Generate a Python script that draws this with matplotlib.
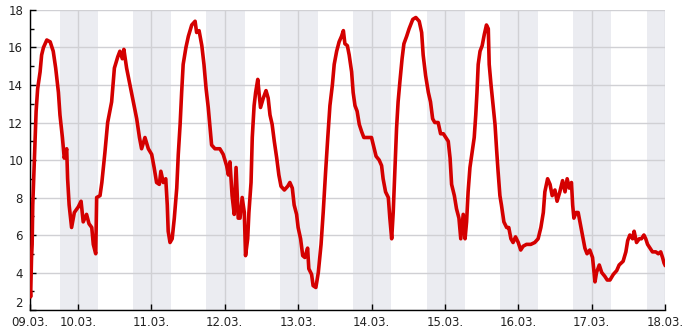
import datetime as dt
import matplotlib
matplotlib.use("Agg")
import matplotlib.pyplot as plt

# Stunden seit 09.03. 00:00 und gemessene Temperatur
hours = [8.3, 8.5, 8.8, 9.0, 9.2, 9.5, 9.8, 10.0, 10.3, 10.8, 11.6, 12.1, 12.7, 13.8, 14.9,
         15.9, 16.7, 17.6, 18.1, 18.9, 19.5, 20.3, 20.6, 21.1, 21.9, 22.8, 24.1, 25.0, 25.7,
         26.8, 27.6, 28.5, 29.0, 29.8, 30.1, 31.2, 31.8, 32.8, 33.7, 35.0, 35.9, 37.0, 37.7,
         38.5, 39.0, 39.9, 41.0, 42.1, 43.2, 44.1, 44.8, 45.9, 47.0, 48.1, 48.9, 49.7, 50.6,
         51.1, 51.9, 52.7, 53.2, 53.5, 54.1, 54.8, 55.5, 56.3, 56.8, 57.4, 57.9, 58.4, 59.3,
         60.1, 61.2, 62.3, 62.8, 63.6, 64.5, 65.2, 65.9, 66.6, 67.2, 67.7, 68.8, 70.4, 71.5,
         72.6, 73.2, 73.7, 74.4, 75.1, 75.7, 76.4, 77.0, 77.7, 78.4, 78.8, 79.5, 79.9, 80.6,
         81.0, 81.6, 82.1, 82.8, 83.2, 83.7, 84.6, 85.5, 86.2, 86.8, 87.5, 88.2, 89.0, 89.7,
         90.4, 91.5, 92.6, 93.3, 94.1, 94.7, 95.5, 96.0, 96.8, 97.5, 98.2, 99.1, 99.5, 100.4,
         100.9, 101.8, 102.6, 103.5, 104.2, 105.0, 105.7, 106.4, 107.2, 107.8, 108.6, 109.4,
         110.2, 110.8, 111.3, 112.1, 112.7, 113.5, 114.0, 114.6, 115.3, 116.0, 116.8, 117.5,
         118.9, 120.0, 120.6, 121.5, 122.5, 123.3, 123.8, 124.6, 125.5, 126.0, 126.6, 127.1,
         127.7, 128.2, 128.7, 129.3, 130.0, 130.6, 131.5, 132.3, 133.5, 134.5, 135.6, 136.4,
         136.9, 137.7, 138.6, 139.3, 140.0, 140.7, 141.8, 142.6, 143.5, 144.3, 145.1, 145.7,
         146.2, 147.1, 147.8, 148.6, 149.2, 150.0, 150.6, 151.1, 151.6, 152.2, 152.9, 153.6,
         154.1, 154.5, 154.9, 155.5, 156.2, 156.9, 157.6, 158.2, 158.5, 159.1, 159.8, 160.4,
         160.9, 161.4, 162.0, 162.5, 163.3, 164.2, 164.9, 165.6, 166.3, 167.1, 168.0, 168.8,
         169.6, 170.7, 172.1, 173.4, 174.5, 175.4, 176.2, 176.7, 177.6, 178.4, 179.1, 180.0,
         180.7, 181.6, 182.5, 183.3, 184.0, 184.7, 185.4, 185.8, 186.2, 186.9, 187.6, 188.4,
         189.0, 189.8, 190.5, 191.4, 192.3, 193.1, 193.6, 194.5, 195.3, 196.3, 197.1, 198.0,
         199.1, 200.2, 201.0, 202.3, 203.2, 203.8, 204.5, 205.4, 205.9, 206.7, 207.6, 208.3,
         209.1, 209.7, 210.3, 211.1, 211.9, 213.0, 213.8, 214.6, 215.2, 215.7, 216.0]
temps = [3.3, 2.7, 4.8, 5.5, 7.6, 9.0, 10.3, 11.5, 12.6, 13.8, 14.7, 15.6, 16.0, 16.4, 16.3,
         15.8, 14.9, 13.6, 12.4, 11.2, 10.1, 10.6, 9.0, 7.6, 6.4, 7.2, 7.5, 7.8, 6.7,
         7.1, 6.6, 6.4, 5.5, 5.0, 8.0, 8.1, 8.8, 10.4, 12.0, 13.1, 14.9, 15.5, 15.8,
         15.4, 15.9, 14.9, 14.0, 13.1, 12.2, 11.2, 10.6, 11.2, 10.6, 10.3, 9.6, 8.8, 8.7,
         9.4, 8.8, 9.0, 7.6, 6.2, 5.6, 5.8, 6.9, 8.5, 10.3, 11.9, 13.6, 15.1, 16.0,
         16.6, 17.2, 17.4, 16.8, 16.9, 16.1, 15.1, 13.8, 12.8, 11.7, 10.8, 10.6, 10.6, 10.3,
         9.7, 9.2, 9.9, 8.1, 7.1, 9.6, 6.9, 6.9, 8.0, 7.2, 4.9, 5.8, 7.2, 8.8,
         11.2, 12.9, 13.6, 14.3, 13.6, 12.8, 13.3, 13.7, 13.3, 12.4, 11.9, 11.0, 10.1, 9.2,
         8.6, 8.4, 8.6, 8.8, 8.5, 7.6, 7.1, 6.4, 5.8, 4.9, 4.8, 5.3, 4.2, 3.9,
         3.3, 3.2, 4.0, 5.5, 7.2, 9.4, 11.2, 12.9, 14.0, 15.1, 15.8, 16.3,
         16.6, 16.9, 16.2, 16.1, 15.6, 14.7, 13.6, 12.9, 12.6, 11.9, 11.5, 11.2,
         11.2, 11.2, 10.8, 10.2, 10.0, 9.7, 9.0, 8.3, 8.0, 6.9, 5.8, 7.2,
         9.7, 11.7, 13.1, 14.2, 15.4, 16.2, 16.6, 17.0, 17.5, 17.6, 17.4, 16.8,
         15.6, 14.5, 13.6, 13.1, 12.2, 12.0, 12.0, 11.4, 11.4, 11.2, 11.0, 10.1,
         8.7, 8.1, 7.4, 6.9, 5.8, 7.1, 5.8, 6.7, 8.3, 9.6, 10.4, 11.2,
         12.4, 13.6, 15.1, 15.8, 16.1, 16.7, 17.2, 17.0, 15.1, 14.0, 12.9, 11.9,
         10.6, 9.4, 8.1, 7.6, 6.7, 6.4, 6.4, 5.8, 5.6, 5.9, 5.6, 5.2,
         5.4, 5.5, 5.5, 5.6, 5.8, 6.4, 7.2, 8.3, 9.0, 8.7, 8.1, 8.4,
         7.8, 8.3, 8.9, 8.3, 9.0, 8.5, 8.8, 7.6, 6.9, 7.2, 7.2, 6.5,
         6.0, 5.3, 5.0, 5.2, 4.8, 3.5, 4.0, 4.4, 4.0, 3.8, 3.6, 3.6,
         3.9, 4.1, 4.4, 4.6, 5.1, 5.7, 6.0, 5.8, 6.2, 5.6, 5.8, 5.8,
         6.0, 5.8, 5.5, 5.3, 5.1, 5.1, 5.0, 5.1, 4.8, 4.5, 4.4]

# Nachtzeiten (Stunden relativ zum Tagesbeginn)
night_start = 18.0
night_end = 6.5
day_labels = ["09.03.", "10.03.", "11.03.", "12.03.", "13.03.", "14.03.",
              "15.03.", "16.03.", "17.03.", "18.03."]

t0 = dt.datetime(2021, 3, 9)
times = [t0 + dt.timedelta(hours=h) for h in hours]

fig = plt.figure(figsize=(6.85, 3.3), dpi=100)
ax = fig.add_axes([0.0438, 0.0606, 0.9270, 0.9091])

# Nächte schattieren
x_start = times[0]
x_end = t0 + dt.timedelta(days=9)
for d in range(9):
    a = t0 + dt.timedelta(days=d, hours=night_start)
    b = t0 + dt.timedelta(days=d + 1, hours=night_end)
    ax.axvspan(a, min(b, x_end), color="#ebecf1", lw=0, zorder=0)

ax.plot(times, temps, color="#d40000", lw=2.6, zorder=3)

ax.set_xlim(x_start, x_end)
ax.set_ylim(2, 18)

ticks = [x_start] + [t0 + dt.timedelta(days=d) for d in range(1, 10)]
ax.set_xticks(ticks)
ax.set_xticklabels(day_labels)
ax.set_yticks(range(2, 19, 2))
ax.set_yticks(range(3, 18, 2), minor=True)

ax.grid(True, which="major", color="#d0d0d4", lw=1.0, zorder=1)
ax.set_axisbelow(True)

for s in ["top", "right"]:
    ax.spines[s].set_visible(False)
for s in ["left", "bottom"]:
    ax.spines[s].set_color("black")
    ax.spines[s].set_linewidth(1.0)

ax.tick_params(axis="both", which="major", direction="in", length=4, width=1,
               labelsize=8.5, labelcolor="#222222")
ax.tick_params(axis="x", pad=4)
ax.tick_params(axis="y", which="minor", direction="in", length=3, width=1)
ax.tick_params(axis="y", pad=5)
# "2" etwas anheben, damit es nicht am ersten Datum klebt
ax.get_yticklabels()[0].set_verticalalignment("bottom")

fig.savefig("out.png", dpi=100)
